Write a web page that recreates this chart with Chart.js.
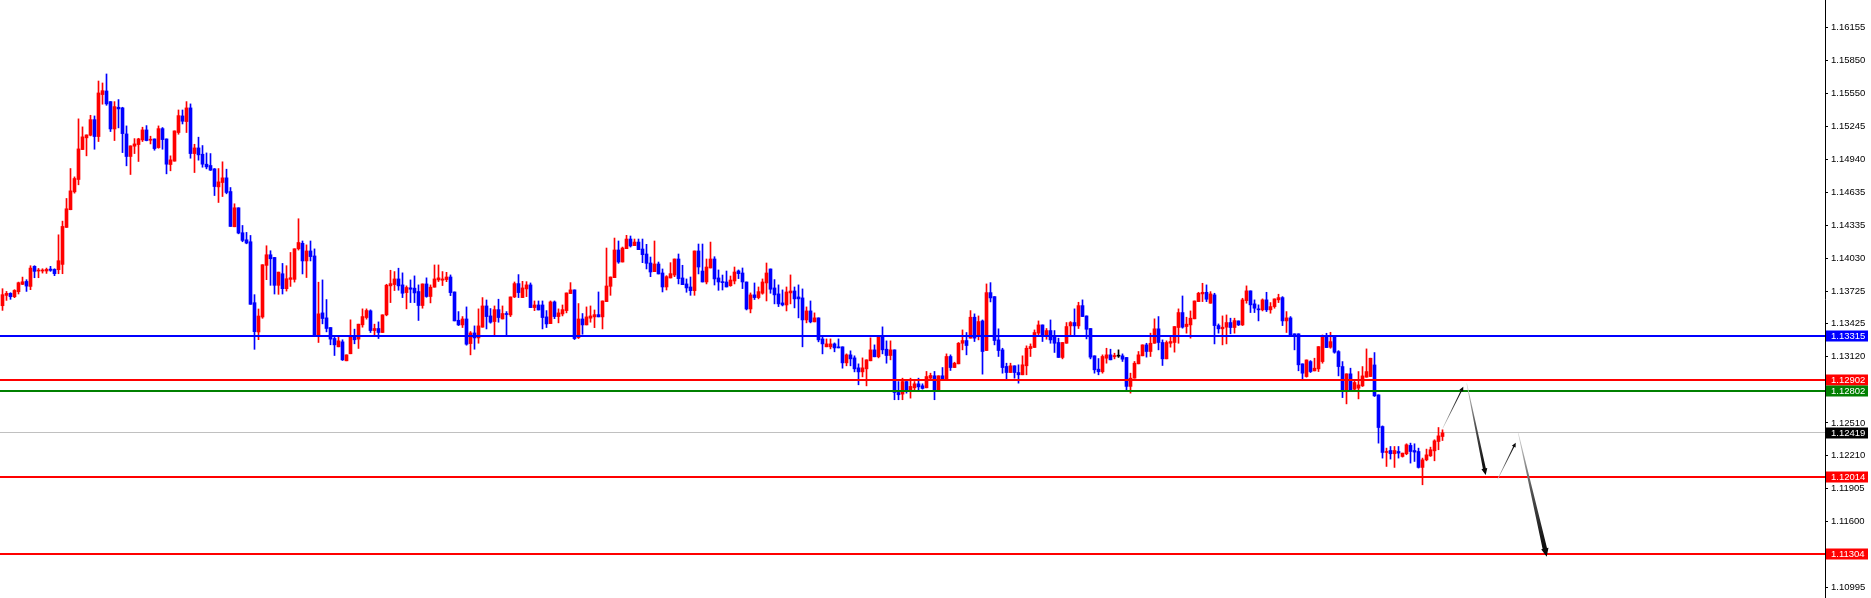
<!DOCTYPE html>
<html>
<head>
<meta charset="utf-8">
<script src="https://cdn.jsdelivr.net/npm/chart.js@4.4.1/dist/chart.umd.min.js"></script>
<style>
  html, body { margin: 0; padding: 0; background: #fff; overflow: hidden; }
  canvas { display: block; }
</style>
</head>
<body>
<canvas id="chart" width="1871" height="598"></canvas>
<script>
// candles, oldest first
const opens = [
  1.13591,1.13686,1.13705,1.13674,1.13720,1.13788,1.13815,1.13769,1.13954,1.13911,
  1.13911,1.13911,1.13929,1.13926,1.13923,1.13972,1.14313,1.14476,1.14641,1.14755,
  1.15031,1.15139,1.15163,1.15307,1.15151,1.15538,1.15571,1.15473,1.15221,1.15421,
  1.15415,1.15175,1.14967,1.15062,1.15077,1.15120,1.15212,1.15117,1.15129,1.15049,
  1.15224,1.15129,1.14893,1.14924,1.15188,1.15341,1.15289,1.15415,1.14994,1.15046,
  1.14988,1.14896,1.14884,1.14853,1.14687,1.14727,1.14770,1.14644,1.14319,1.14494,
  1.14264,1.14199,1.14181,1.13619,1.13349,1.13487,1.13963,1.14061,1.14036,1.13779,
  1.13886,1.13748,1.13834,1.13834,1.14116,1.14167,1.14004,1.14096,1.14050,1.13317,
  1.13525,1.13479,1.13390,1.13289,1.13212,1.13258,1.13083,1.13148,1.13307,1.13283,
  1.13415,1.13482,1.13544,1.13362,1.13381,1.13344,1.13507,1.13774,1.13786,1.13838,
  1.13783,1.13712,1.13756,1.13753,1.13722,1.13593,1.13792,1.13676,1.13762,1.13829,
  1.13826,1.13832,1.13856,1.13718,1.13457,1.13414,1.13469,1.13242,1.13340,1.13294,
  1.13393,1.13589,1.13497,1.13445,1.13555,1.13469,1.13519,1.13506,1.13672,1.13795,
  1.13666,1.13746,1.13783,1.13574,1.13598,1.13598,1.13488,1.13426,1.13626,1.13491,
  1.13515,1.13546,1.13703,1.13737,1.13297,1.13469,1.13414,1.13476,1.13488,1.13509,
  1.13488,1.13629,1.13770,1.13850,1.14105,1.13994,1.14117,1.14206,1.14145,1.14178,
  1.14114,1.14068,1.13985,1.13905,1.13976,1.13893,1.13764,1.13847,1.13874,1.14022,
  1.13847,1.13792,1.13764,1.13730,1.14096,1.13911,1.13810,1.13939,1.14022,1.13847,
  1.13810,1.13810,1.13776,1.13819,1.13912,1.13893,1.13810,1.13561,1.13691,1.13666,
  1.13706,1.13801,1.13930,1.13755,1.13700,1.13617,1.13598,1.13709,1.13727,1.13672,
  1.13663,1.13460,1.13543,1.13442,1.13479,1.13285,1.13212,1.13212,1.13239,1.13212,
  1.13212,1.13064,1.13138,1.13110,1.13018,1.12981,1.13009,1.13083,1.13184,1.13120,
  1.13313,1.13190,1.13132,1.13184,1.12791,1.12776,1.12892,1.12809,1.12834,1.12871,
  1.12853,1.12834,1.12923,1.12945,1.12806,1.12945,1.12917,1.13123,1.13021,1.13055,
  1.13245,1.13270,1.13292,1.13485,1.13307,1.13451,1.13178,1.13712,1.13675,1.13276,
  1.13184,1.13031,1.12975,1.13037,1.12975,1.12954,1.13037,1.13196,1.13206,1.13338,
  1.13414,1.13313,1.13362,1.13307,1.13252,1.13114,1.13245,1.13405,1.13436,1.13405,
  1.13592,1.13497,1.13381,1.13129,1.13006,1.12982,1.13107,1.13138,1.13120,1.13126,
  1.13129,1.13114,1.12847,1.12923,1.13055,1.13129,1.13230,1.13169,1.13245,1.13378,
  1.13252,1.13101,1.13245,1.13252,1.13390,1.13528,1.13399,1.13414,1.13470,1.13629,
  1.13700,1.13715,1.13614,1.13691,1.13408,1.13378,1.13393,1.13436,1.13390,1.13451,
  1.13414,1.13638,1.13728,1.13608,1.13562,1.13553,1.13645,1.13553,1.13583,1.13645,
  1.13666,1.13451,1.13479,1.13332,1.13332,1.13055,1.12938,1.13076,1.12990,1.13009,
  1.13076,1.13312,1.13208,1.13306,1.13168,1.13030,1.12806,1.12963,1.12821,1.12831,
  1.12852,1.12932,1.12938,1.13045,1.12769,1.12477,1.12238,1.12256,1.12226,1.12247,
  1.12201,1.12226,1.12303,1.12256,1.12247,1.12100,1.12170,1.12207,1.12253,1.12339,1.12385
];
const highs = [
  1.13748,1.13723,1.13711,1.13739,1.13809,1.13855,1.13831,1.13960,1.13960,1.13935,
  1.13932,1.13938,1.13954,1.13932,1.14245,1.14371,1.14580,1.14856,1.14779,1.15314,
  1.15240,1.15166,1.15347,1.15341,1.15663,1.15645,1.15728,1.15473,1.15473,1.15492,
  1.15421,1.15249,1.15065,1.15132,1.15135,1.15237,1.15252,1.15154,1.15129,1.15249,
  1.15234,1.15129,1.14973,1.15203,1.15396,1.15396,1.15473,1.15452,1.15080,1.15145,
  1.15068,1.15000,1.14994,1.14856,1.14856,1.14918,1.14850,1.14681,1.14531,1.14494,
  1.14331,1.14267,1.14239,1.13693,1.13561,1.13969,1.14144,1.14098,1.14036,1.13901,
  1.13981,1.13960,1.14082,1.14116,1.14393,1.14188,1.14152,1.14188,1.14115,1.13808,
  1.13829,1.13648,1.13390,1.13307,1.13307,1.13277,1.13138,1.13461,1.13375,1.13421,
  1.13562,1.13562,1.13553,1.13421,1.13442,1.13507,1.13789,1.13918,1.13906,1.13937,
  1.13894,1.13774,1.13829,1.13866,1.13783,1.13792,1.13848,1.13783,1.13967,1.13967,
  1.13906,1.13899,1.13875,1.13718,1.13537,1.13491,1.13580,1.13353,1.13405,1.13562,
  1.13666,1.13644,1.13565,1.13589,1.13651,1.13589,1.13537,1.13672,1.13810,1.13878,
  1.13816,1.13813,1.13801,1.13635,1.13635,1.13635,1.13546,1.13635,1.13635,1.13562,
  1.13598,1.13709,1.13804,1.13737,1.13611,1.13519,1.13580,1.13589,1.13552,1.13718,
  1.13635,1.14123,1.13856,1.14215,1.14188,1.14132,1.14240,1.14234,1.14206,1.14206,
  1.14206,1.14157,1.14040,1.14188,1.13994,1.13930,1.13868,1.13988,1.14022,1.14068,
  1.13964,1.13838,1.13856,1.14096,1.14160,1.14160,1.14022,1.14178,1.14043,1.13921,
  1.13874,1.13911,1.13865,1.13948,1.13921,1.13939,1.13810,1.13709,1.13801,1.13764,
  1.13838,1.13985,1.13930,1.13832,1.13783,1.13737,1.13764,1.13875,1.13764,1.13783,
  1.13746,1.13580,1.13635,1.13525,1.13479,1.13313,1.13285,1.13285,1.13248,1.13285,
  1.13212,1.13147,1.13175,1.13129,1.13055,1.13110,1.13092,1.13295,1.13230,1.13313,
  1.13396,1.13267,1.13267,1.13184,1.12892,1.12923,1.12892,1.12923,1.12892,1.12923,
  1.12871,1.12985,1.12969,1.12985,1.12945,1.13021,1.13147,1.13138,1.13070,1.13252,
  1.13368,1.13344,1.13546,1.13516,1.13497,1.13460,1.13792,1.13804,1.13675,1.13378,
  1.13199,1.13061,1.13061,1.13037,1.13046,1.13129,1.13221,1.13239,1.13368,1.13451,
  1.13414,1.13381,1.13460,1.13362,1.13292,1.13252,1.13436,1.13445,1.13562,1.13623,
  1.13645,1.13497,1.13381,1.13129,1.13104,1.13138,1.13199,1.13190,1.13153,1.13184,
  1.13147,1.13114,1.12969,1.13077,1.13169,1.13230,1.13245,1.13338,1.13470,1.13491,
  1.13276,1.13267,1.13307,1.13399,1.13562,1.13681,1.13485,1.13543,1.13635,1.13715,
  1.13798,1.13783,1.13721,1.13706,1.13423,1.13497,1.13506,1.13476,1.13476,1.13451,
  1.13660,1.13774,1.13728,1.13645,1.13599,1.13654,1.13715,1.13620,1.13654,1.13697,
  1.13675,1.13537,1.13491,1.13332,1.13332,1.13055,1.13091,1.13085,1.13107,1.13214,
  1.13321,1.13337,1.13346,1.13306,1.13177,1.13076,1.12963,1.13015,1.12907,1.12984,
  1.13030,1.13193,1.13107,1.13159,1.12769,1.12483,1.12278,1.12293,1.12293,1.12293,
  1.12232,1.12318,1.12324,1.12318,1.12278,1.12186,1.12269,1.12287,1.12355,1.12468,1.12447
];
const lows = [
  1.13548,1.13640,1.13650,1.13665,1.13699,1.13785,1.13723,1.13739,1.13849,1.13849,
  1.13892,1.13889,1.13908,1.13868,1.13886,1.13886,1.14313,1.14476,1.14629,1.14706,
  1.15031,1.14973,1.15157,1.15034,1.15105,1.15449,1.15439,1.15197,1.15114,1.15231,
  1.15003,1.14881,1.14801,1.14994,1.14921,1.15105,1.15111,1.15083,1.15025,1.15043,
  1.15034,1.14807,1.14835,1.14924,1.15172,1.15267,1.15188,1.14951,1.14819,1.14933,
  1.14868,1.14853,1.14838,1.14607,1.14543,1.14598,1.14623,1.14322,1.14319,1.14254,
  1.14181,1.14162,1.13604,1.13189,1.13278,1.13475,1.13831,1.13779,1.13699,1.13696,
  1.13699,1.13726,1.13769,1.13809,1.14104,1.13884,1.13851,1.14004,1.13317,1.13252,
  1.13424,1.13350,1.13231,1.13132,1.13212,1.13086,1.13083,1.13148,1.13240,1.13197,
  1.13393,1.13467,1.13344,1.13320,1.13289,1.13344,1.13498,1.13620,1.13731,1.13734,
  1.13666,1.13562,1.13620,1.13620,1.13455,1.13568,1.13669,1.13617,1.13762,1.13814,
  1.13777,1.13813,1.13684,1.13451,1.13408,1.13390,1.13227,1.13138,1.13190,1.13245,
  1.13393,1.13377,1.13430,1.13322,1.13439,1.13469,1.13322,1.13491,1.13666,1.13666,
  1.13666,1.13675,1.13574,1.13546,1.13552,1.13377,1.13390,1.13426,1.13472,1.13433,
  1.13497,1.13525,1.13703,1.13279,1.13288,1.13328,1.13414,1.13439,1.13389,1.13488,
  1.13377,1.13629,1.13687,1.13850,1.13982,1.13994,1.14117,1.14132,1.14145,1.14108,
  1.13988,1.13930,1.13859,1.13905,1.13884,1.13718,1.13736,1.13847,1.13859,1.13792,
  1.13785,1.13715,1.13687,1.13687,1.13884,1.13810,1.13792,1.13939,1.13782,1.13733,
  1.13736,1.13764,1.13770,1.13792,1.13841,1.13749,1.13552,1.13525,1.13648,1.13654,
  1.13697,1.13635,1.13706,1.13608,1.13583,1.13589,1.13543,1.13608,1.13571,1.13479,
  1.13212,1.13433,1.13433,1.13442,1.13258,1.13147,1.13212,1.13193,1.13166,1.13202,
  1.13015,1.13037,1.13037,1.12981,1.12862,1.12935,1.12852,1.13083,1.13120,1.13110,
  1.13147,1.13061,1.13092,1.12724,1.12724,1.12724,1.12785,1.12739,1.12816,1.12816,
  1.12822,1.12834,1.12902,1.12724,1.12806,1.12917,1.12917,1.12994,1.13021,1.13055,
  1.13184,1.13138,1.13292,1.13261,1.13276,1.12960,1.13178,1.13626,1.13230,1.13123,
  1.12969,1.12908,1.12975,1.12923,1.12877,1.12954,1.12954,1.13123,1.13206,1.13307,
  1.13261,1.13282,1.13245,1.13160,1.13114,1.13101,1.13245,1.13322,1.13322,1.13381,
  1.13491,1.13285,1.13101,1.12969,1.12954,1.12969,1.13061,1.13092,1.13101,1.13114,
  1.13077,1.12806,1.12785,1.12923,1.13055,1.13129,1.13117,1.13123,1.13245,1.13184,
  1.13040,1.13101,1.13209,1.13163,1.13245,1.13384,1.13338,1.13292,1.13470,1.13629,
  1.13629,1.13629,1.13614,1.13239,1.13338,1.13230,1.13239,1.13332,1.13338,1.13408,
  1.13408,1.13614,1.13528,1.13528,1.13451,1.13543,1.13537,1.13522,1.13568,1.13620,
  1.13408,1.13344,1.13307,1.13184,1.12991,1.12908,1.12932,1.12975,1.12990,1.12984,
  1.13061,1.13205,1.13199,1.13153,1.12944,1.12744,1.12686,1.12806,1.12815,1.12732,
  1.12846,1.12932,1.12938,1.12754,1.12324,1.12186,1.12109,1.12177,1.12100,1.12186,
  1.12195,1.12217,1.12140,1.12155,1.12094,1.11940,1.12161,1.12201,1.12161,1.12263,1.12348
];
const closes = [
  1.13693,1.13705,1.13674,1.13732,1.13803,1.13812,1.13772,1.13938,1.13908,1.13920,
  1.13920,1.13926,1.13917,1.13886,1.14006,1.14322,1.14485,1.14650,1.14764,1.15037,
  1.15148,1.15166,1.15307,1.15151,1.15553,1.15574,1.15452,1.15221,1.15427,1.15406,
  1.15178,1.14967,1.15065,1.15083,1.15129,1.15212,1.15114,1.15123,1.15040,1.15224,
  1.15123,1.14896,1.14936,1.15203,1.15344,1.15292,1.15415,1.14994,1.15046,1.14982,
  1.14896,1.14871,1.14841,1.14690,1.14733,1.14770,1.14635,1.14322,1.14494,1.14261,
  1.14193,1.14169,1.13604,1.13352,1.13496,1.13969,1.14061,1.14024,1.13779,1.13901,
  1.13748,1.13840,1.13849,1.14116,1.14174,1.14004,1.14096,1.14044,1.13317,1.13516,
  1.13473,1.13381,1.13283,1.13230,1.13267,1.13092,1.13138,1.13314,1.13277,1.13421,
  1.13491,1.13547,1.13362,1.13381,1.13344,1.13507,1.13780,1.13795,1.13838,1.13774,
  1.13706,1.13759,1.13743,1.13709,1.13593,1.13792,1.13676,1.13762,1.13838,1.13848,
  1.13838,1.13856,1.13712,1.13451,1.13414,1.13469,1.13236,1.13340,1.13294,1.13405,
  1.13589,1.13491,1.13439,1.13555,1.13482,1.13519,1.13510,1.13672,1.13795,1.13712,
  1.13755,1.13783,1.13574,1.13598,1.13552,1.13482,1.13423,1.13626,1.13491,1.13525,
  1.13555,1.13709,1.13737,1.13288,1.13469,1.13414,1.13488,1.13497,1.13509,1.13488,
  1.13635,1.13773,1.13856,1.14105,1.13994,1.14123,1.14206,1.14142,1.14178,1.14108,
  1.14062,1.13982,1.13902,1.13976,1.13884,1.13764,1.13859,1.13887,1.14022,1.13841,
  1.13785,1.13755,1.13730,1.14096,1.13948,1.13810,1.13948,1.14022,1.13838,1.13810,
  1.13804,1.13764,1.13828,1.13902,1.13887,1.13810,1.13561,1.13691,1.13666,1.13721,
  1.13810,1.13893,1.13743,1.13691,1.13608,1.13598,1.13718,1.13727,1.13654,1.13654,
  1.13460,1.13543,1.13442,1.13479,1.13276,1.13239,1.13239,1.13239,1.13202,1.13202,
  1.13064,1.13138,1.13101,1.13009,1.12981,1.13018,1.13092,1.13184,1.13120,1.13313,
  1.13184,1.13132,1.13184,1.12791,1.12770,1.12892,1.12809,1.12847,1.12871,1.12843,
  1.12828,1.12938,1.12948,1.12806,1.12945,1.12917,1.13123,1.13021,1.13061,1.13245,
  1.13270,1.13224,1.13485,1.13292,1.13445,1.13169,1.13712,1.13663,1.13270,1.13178,
  1.13021,1.12975,1.13037,1.12975,1.12954,1.13046,1.13199,1.13215,1.13344,1.13414,
  1.13313,1.13362,1.13276,1.13245,1.13114,1.13252,1.13399,1.13436,1.13405,1.13592,
  1.13491,1.13374,1.13117,1.13000,1.12982,1.13123,1.13138,1.13092,1.13132,1.13126,
  1.13098,1.12847,1.12923,1.13061,1.13138,1.13230,1.13169,1.13245,1.13378,1.13252,
  1.13101,1.13252,1.13261,1.13399,1.13528,1.13393,1.13421,1.13476,1.13635,1.13706,
  1.13715,1.13651,1.13700,1.13408,1.13378,1.13393,1.13436,1.13390,1.13454,1.13414,
  1.13645,1.13728,1.13599,1.13568,1.13553,1.13645,1.13553,1.13583,1.13654,1.13666,
  1.13451,1.13479,1.13313,1.13313,1.13046,1.12969,1.13091,1.12984,1.13015,1.13214,
  1.13312,1.13205,1.13260,1.13162,1.13030,1.12806,1.12963,1.12815,1.12883,1.12861,
  1.12944,1.12984,1.13107,1.12760,1.12468,1.12238,1.12247,1.12226,1.12256,1.12232,
  1.12232,1.12309,1.12247,1.12241,1.12100,1.12170,1.12216,1.12263,1.12345,1.12391,1.12419
];

// price axis
const priceMin = 1.10896;
const priceMax = 1.16410;
const tickValues = [1.16155, 1.15850, 1.15550, 1.15245, 1.14940, 1.14635, 1.14335, 1.14030,
  1.13725, 1.13425, 1.13120, 1.12510, 1.12210, 1.11905, 1.11600, 1.10995];

// horizontal levels drawn on the chart, with their price tags
const levelValues = [1.13315, 1.12902, 1.12802, 1.12419, 1.12014, 1.11304];
const levelLineColors = ['#0000ff', '#ff0000', '#008000', '#c0c0c0', '#ff0000', '#ff0000'];
const levelTagColors = ['#0000ff', '#ff0000', '#008000', '#000000', '#ff0000', '#ff0000'];
const levelWidths = [2, 2, 2, 1, 2, 2];

// projected path arrows (bar index, price)
const arrowFromX = [360.05, 366.05, 373.8, 378.95];
const arrowFromY = [1.12461, 1.12876, 1.11993, 1.12415];
const arrowToX = [365.2, 370.8, 378.3, 386.05];
const arrowToY = [1.12844, 1.12030, 1.12328, 1.11277];
const arrowWidths = [1.2, 3, 1.2, 4.5];

const slots = 456.25;   // bar slots across the plot
const firstSlot = -0.625;

const candleColors = opens.map((o, i) => {
  if (closes[i] > o) return '#ff0000';
  if (closes[i] < o) return '#0000ff';
  return '#000000';
});
const bodies = opens.map((o, i) => ({ x: i, y: [o, closes[i]] }));
const wicks = opens.map((o, i) => ({ x: i, y: [lows[i], highs[i]] }));

const tickFont = "9.5px 'Liberation Sans', Arial, sans-serif";

const levelsBehind = {
  id: 'levelsBehind',
  beforeDatasetsDraw(chart) {
    const { ctx, chartArea, scales } = chart;
    ctx.save();
    levelValues.forEach((v, i) => {
      if (levelWidths[i] !== 1) return;
      const y = Math.floor(scales.y.getPixelForValue(v));
      ctx.fillStyle = levelLineColors[i];
      ctx.fillRect(chartArea.left, y, chartArea.right - chartArea.left, 1);
    });
    ctx.restore();
  }
};

const levelsFront = {
  id: 'levelsFront',
  afterDatasetsDraw(chart) {
    const { ctx, chartArea, scales } = chart;
    ctx.save();
    levelValues.forEach((v, i) => {
      if (levelWidths[i] === 1) return;
      const y = Math.round(scales.y.getPixelForValue(v));
      ctx.fillStyle = levelLineColors[i];
      ctx.fillRect(chartArea.left, y - 1, chartArea.right - chartArea.left, 2);
    });

    // arrows
    arrowFromX.forEach((fx, i) => {
      const x0 = scales.x.getPixelForValue(fx);
      const y0 = scales.y.getPixelForValue(arrowFromY[i]);
      const x1 = scales.x.getPixelForValue(arrowToX[i]);
      const y1 = scales.y.getPixelForValue(arrowToY[i]);
      const len = Math.hypot(x1 - x0, y1 - y0);
      const ux = (x1 - x0) / len, uy = (y1 - y0) / len;
      const nx = -uy, ny = ux;
      const w = arrowWidths[i];
      const head = 3 + w * 1.2;
      const hx = x1 - ux * head, hy = y1 - uy * head;
      const g = ctx.createLinearGradient(x0, y0, x1, y1);
      g.addColorStop(0, '#d8d8d8');
      g.addColorStop(0.45, '#555555');
      g.addColorStop(1, '#000000');
      ctx.fillStyle = g;
      ctx.beginPath();
      ctx.moveTo(x0 + nx * 0.3, y0 + ny * 0.3);
      ctx.lineTo(hx + nx * w / 2, hy + ny * w / 2);
      ctx.lineTo(hx + nx * (w / 2 + 1.5), hy + ny * (w / 2 + 1.5));
      ctx.lineTo(x1, y1);
      ctx.lineTo(hx - nx * (w / 2 + 1.5), hy - ny * (w / 2 + 1.5));
      ctx.lineTo(hx - nx * w / 2, hy - ny * w / 2);
      ctx.lineTo(x0 - nx * 0.3, y0 - ny * 0.3);
      ctx.closePath();
      ctx.fill();
    });
    ctx.restore();
  },
  afterDraw(chart) {
    const { ctx, scales } = chart;
    const left = scales.y.left;
    ctx.save();
    ctx.font = tickFont;
    ctx.textBaseline = 'middle';
    ctx.textAlign = 'left';
    levelValues.forEach((v, i) => {
      const y = Math.round(scales.y.getPixelForValue(v));
      ctx.fillStyle = levelTagColors[i];
      ctx.fillRect(left + 1, y - 5.5, 42, 11);
      ctx.fillStyle = '#ffffff';
      ctx.fillText(v.toFixed(5), left + 6, y + 0.5);
    });
    ctx.restore();
  }
};

new Chart(document.getElementById('chart'), {
  type: 'bar',
  data: {
    datasets: [
      {
        label: 'wicks',
        data: wicks,
        backgroundColor: candleColors,
        barThickness: 1,
        grouped: false,
        order: 2
      },
      {
        label: 'bodies',
        data: bodies,
        backgroundColor: candleColors,
        barThickness: 3,
        minBarLength: 1,
        grouped: false,
        order: 1
      }
    ]
  },
  options: {
    responsive: false,
    devicePixelRatio: 1,
    animation: false,
    layout: { padding: 0 },
    plugins: { legend: { display: false }, tooltip: { enabled: false } },
    scales: {
      x: {
        type: 'linear',
        display: false,
        offset: false,
        min: firstSlot,
        max: firstSlot + slots
      },
      y: {
        position: 'right',
        min: priceMin,
        max: priceMax,
        beginAtZero: false,
        afterBuildTicks(scale) {
          scale.ticks = tickValues.map(v => ({ value: v }));
        },
        afterFit(scale) {
          scale.width = 46;
          scale.paddingTop = 0;
          scale.paddingBottom = 0;
        },
        grid: { drawOnChartArea: false, drawTicks: true, tickLength: 3, tickColor: '#000' },
        border: { display: true, color: '#000', width: 1 },
        ticks: {
          color: '#000',
          font: { family: "'Liberation Sans', Arial, sans-serif", size: 9.5 },
          padding: 3,
          autoSkip: false,
          callback: v => Number(v).toFixed(5)
        }
      }
    }
  },
  plugins: [levelsBehind, levelsFront]
});
</script>
</body>
</html>
